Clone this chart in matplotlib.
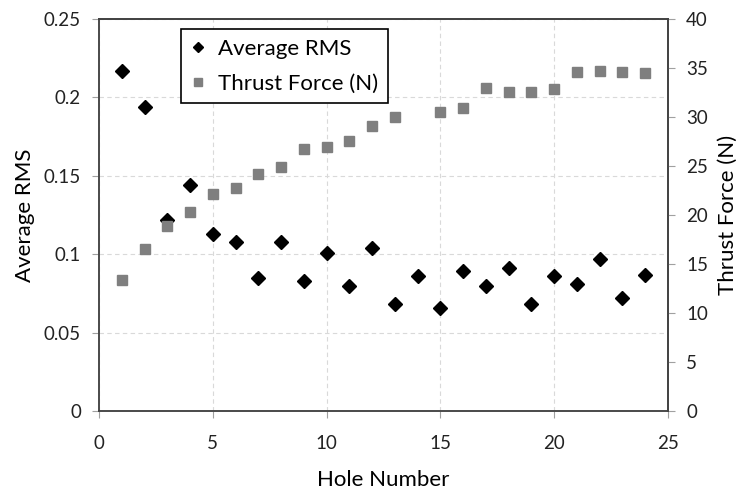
import numpy as np
import matplotlib.pyplot as plt

plt.rcParams['font.family'] = ['Lato', 'DejaVu Sans']

# data
holes = list(range(1, 25))
avg_rms = [0.217, 0.194, 0.122, 0.144, 0.113, 0.108, 0.085, 0.108, 0.083, 0.101,
           0.080, 0.104, 0.068, 0.086, 0.066, 0.089, 0.080, 0.091, 0.068, 0.086,
           0.081, 0.097, 0.072, 0.087]
thrust_holes = [1, 2, 3, 4, 5, 6, 7, 8, 9, 10, 11, 12, 13, 15, 16, 17, 18, 19, 20, 21, 22, 23, 24]
thrust = [13.4, 16.5, 18.9, 20.3, 22.1, 22.8, 24.2, 24.9, 26.7, 26.9, 27.5, 29.1, 30.0,
          30.5, 30.9, 33.0, 32.5, 32.5, 32.9, 34.6, 34.7, 34.6, 34.5]

fig = plt.figure(figsize=(7.53, 4.9), dpi=100)
ax = fig.add_axes([99/753, 1-411/490, 569/753, 392/490])
ax2 = ax.twinx()

ax.grid(True, color='#d9d9d9', linestyle=(0, (4, 3)), linewidth=0.8)
ax.set_axisbelow(True)

h1, = ax.plot(holes, avg_rms, linestyle='none', marker='D', color='black', markersize=7,
              label='Average RMS')
h2, = ax2.plot(thrust_holes, thrust, linestyle='none', marker='s', color='#7f7f7f', markersize=6.8,
               label='Thrust Force (N)')

ax.set_xlim(0, 25)
ax.set_ylim(0, 0.25)
ax2.set_ylim(0, 40)
ax.set_xticks([0, 5, 10, 15, 20, 25])
ax.set_yticks([0, 0.05, 0.1, 0.15, 0.2, 0.25])
ax.set_yticklabels(['0', '0.05', '0.1', '0.15', '0.2', '0.25'])
ax2.set_yticks(np.arange(0, 41, 5))

for a in (ax, ax2):
    a.tick_params(direction='out', length=5, width=0.8, color='#a0a0a0', labelsize=13.5,
                  labelcolor='#222222', pad=8)
    for s in a.spines.values():
        s.set_color('#404040')
        s.set_linewidth(1.2)
ax.tick_params(axis='x', pad=12)
ax.spines['left'].set_color('#808080')
ax.spines['bottom'].set_color('#808080')

ax.set_xlabel('Hole Number', fontsize=16, labelpad=13)
ax.set_ylabel('Average RMS', fontsize=16, labelpad=6)
ax2.set_ylabel('Thrust Force (N)', fontsize=16, labelpad=7)

leg = ax.legend(handles=[h1, h2], loc='upper left', bbox_to_anchor=(0.125, 1.003), fontsize=16,
                frameon=True, fancybox=False, edgecolor='black', framealpha=1,
                handlelength=0.6, handletextpad=0.6, borderpad=0.45, labelspacing=0.65,
                markerscale=0.75)
leg.get_frame().set_linewidth(1.2)

fig.savefig('out.png', dpi=100)
